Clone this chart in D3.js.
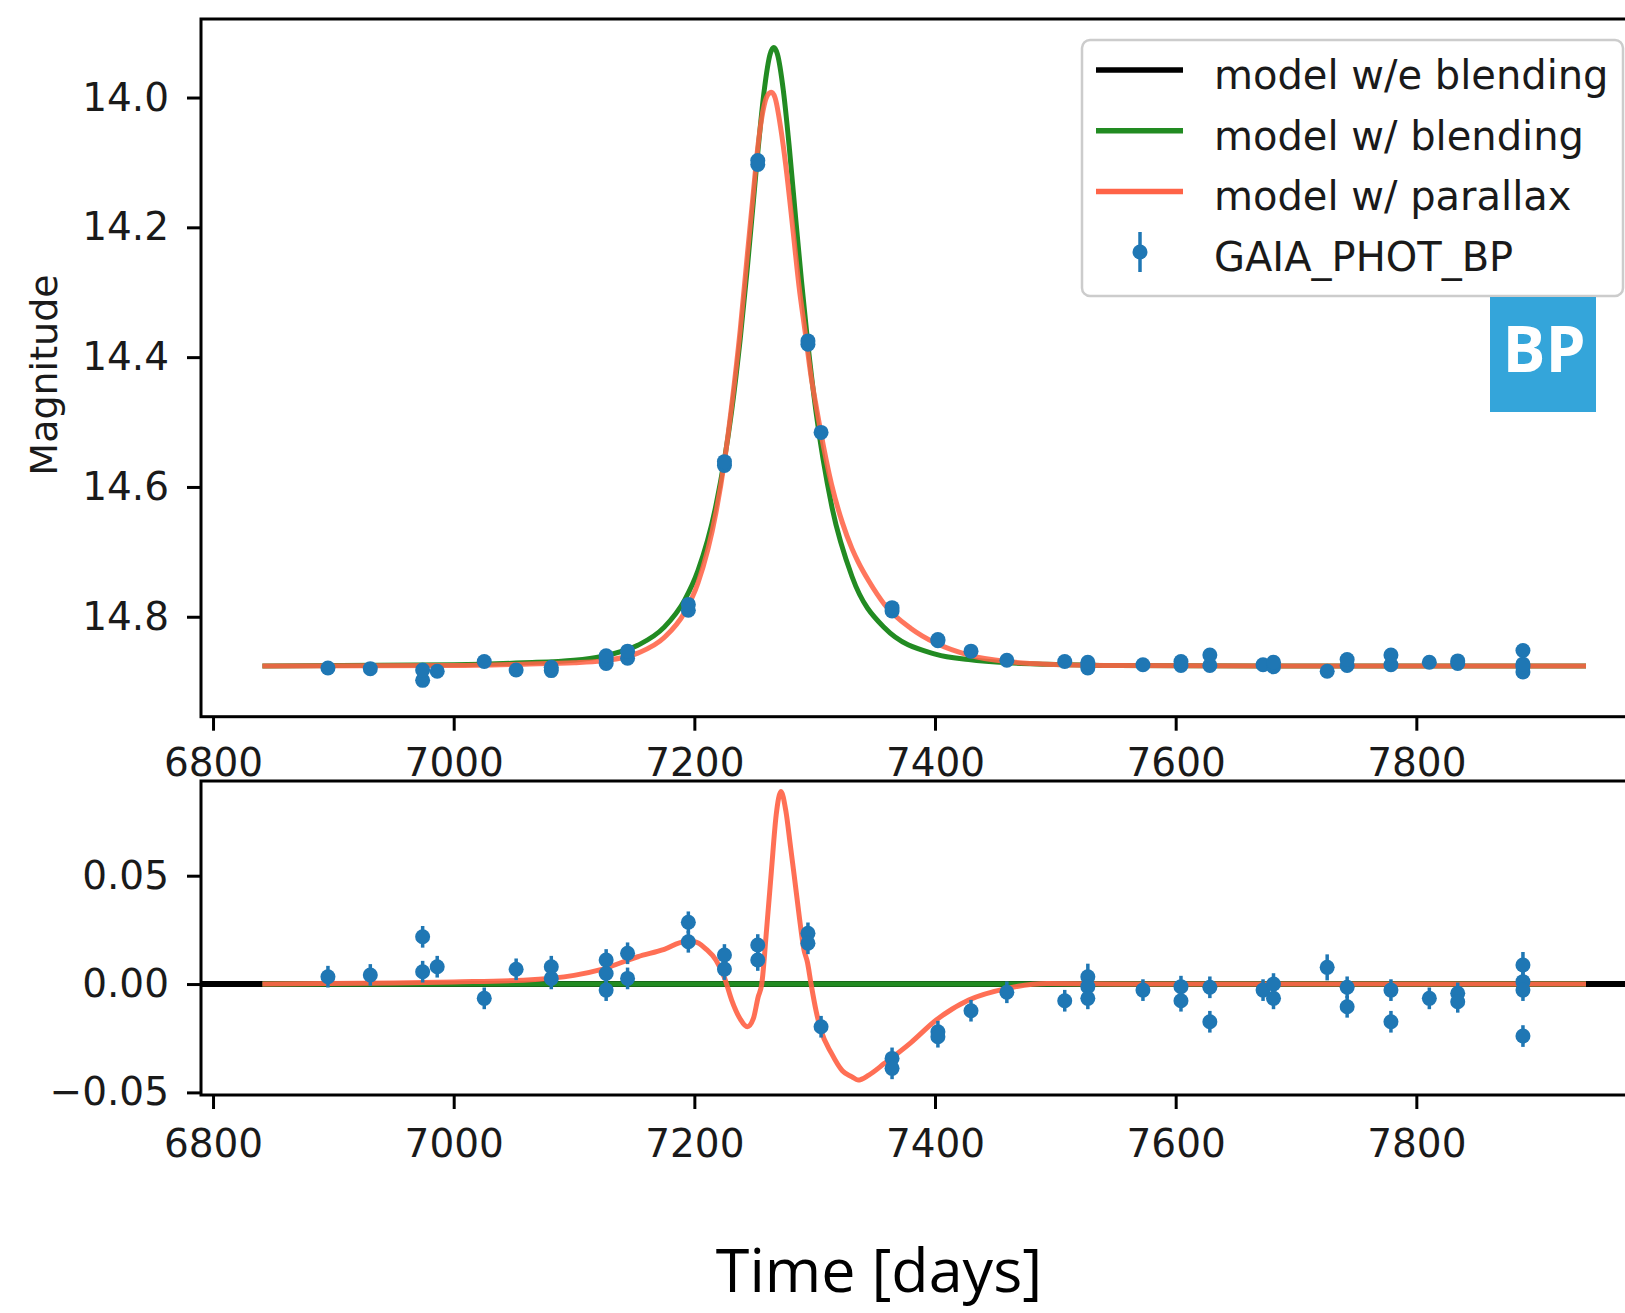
<!DOCTYPE html>
<html>
<head>
<meta charset="utf-8">
<script src="https://cdn.jsdelivr.net/npm/d3@7"></script>
<style>
  html, body { margin: 0; padding: 0; background: #fff; }
  svg { display: block; }
</style>
</head>
<body>
<svg id="chart" width="1625" height="1313"></svg>
<script>
// ---------------- data ----------------
const xTicks = [6800, 7000, 7200, 7400, 7600, 7800];
const magTicks = [14.0, 14.2, 14.4, 14.6, 14.8];
const resTicks = [-0.05, 0.0, 0.05];

const legendLabels = ["model w/e blending", "model w/ blending", "model w/ parallax", "GAIA_PHOT_BP"];

// observations (GAIA BP): time, magnitude, residual, error
const obsTime = [6895.5, 6930.7, 6974.2, 6974.2, 6986.3, 7025.4, 7051.9, 7081.1, 7081.1,
  7126.7, 7126.7, 7126.7, 7144.5, 7144.5, 7195.0, 7195.0, 7225.0, 7225.0, 7252.7, 7252.7,
  7294.4, 7294.4, 7305.3, 7364.3, 7364.3, 7402.4, 7402.4, 7429.9, 7459.7, 7507.8,
  7527.0, 7527.0, 7527.0, 7572.8, 7604.4, 7604.4, 7628.4, 7628.4, 7672.6, 7681.3, 7681.3,
  7725.9, 7742.5, 7742.5, 7778.9, 7778.9, 7810.8, 7834.4, 7834.4, 7888.6, 7888.6, 7888.6, 7888.6];
const obsMag = [14.879, 14.880, 14.898, 14.882, 14.884, 14.869, 14.882, 14.883, 14.878,
  14.872, 14.866, 14.860, 14.864, 14.853, 14.790, 14.781, 14.567, 14.561, 14.103, 14.097,
  14.380, 14.375, 14.516, 14.791, 14.786, 14.837, 14.835, 14.853, 14.867, 14.869,
  14.879, 14.874, 14.870, 14.874, 14.875, 14.869, 14.875, 14.859, 14.874, 14.877, 14.870,
  14.884, 14.875, 14.866, 14.874, 14.859, 14.870, 14.872, 14.868, 14.885, 14.877, 14.873, 14.852];
const obsResid = [0.0034, 0.0042, 0.0218, 0.0057, 0.0080, -0.0066, 0.0068, 0.0080, 0.0026,
  0.0111, 0.0049, -0.0028, 0.0142, 0.0026, 0.0285, 0.0195, 0.0134, 0.0069, 0.0180, 0.0111,
  0.0234, 0.0188, -0.0197, -0.0343, -0.0389, -0.0220, -0.0243, -0.0123, -0.0038, -0.0077,
  0.0034, -0.0012, -0.0066, -0.0028, -0.0012, -0.0077, -0.0015, -0.0174, -0.0028, 0.0000, -0.0066,
  0.0077, -0.0015, -0.0105, -0.0028, -0.0174, -0.0066, -0.0043, -0.0082, 0.0088, 0.0011, -0.0028, -0.0240];
const obsErr = [0.005, 0.005, 0.005, 0.005, 0.005, 0.005, 0.005, 0.005, 0.005,
  0.005, 0.005, 0.005, 0.005, 0.005, 0.005, 0.005, 0.005, 0.005, 0.005, 0.005,
  0.005, 0.005, 0.005, 0.005, 0.005, 0.005, 0.005, 0.005, 0.005, 0.005,
  0.006, 0.005, 0.005, 0.005, 0.005, 0.005, 0.005, 0.005, 0.005, 0.005, 0.005,
  0.006, 0.005, 0.005, 0.005, 0.005, 0.005, 0.005, 0.005, 0.006, 0.005, 0.005, 0.005];

// model with blending (green)
const blendTime = [6841, 7000, 7058, 7100, 7123, 7153, 7175, 7192, 7203, 7218, 7231, 7238, 7244,
  7249, 7253, 7258, 7263, 7266, 7269, 7274, 7279, 7284, 7289, 7294, 7301, 7314, 7331, 7358,
  7401, 7428, 7460, 7493, 7550, 7700, 7941];
const blendMag = [14.876, 14.874, 14.871, 14.867, 14.861, 14.844, 14.816, 14.774, 14.729, 14.628,
  14.483, 14.374, 14.263, 14.161, 14.079, 13.990, 13.933, 13.923, 13.933, 13.990, 14.079, 14.182,
  14.282, 14.374, 14.483, 14.628, 14.738, 14.817, 14.858, 14.866, 14.871, 14.873, 14.875, 14.876, 14.876];

// model with parallax (red)
const parTime = [6841, 7000, 7058, 7100, 7123, 7153, 7175, 7192, 7203, 7218, 7225, 7231, 7238, 7244,
  7249, 7253, 7258, 7261, 7264, 7267, 7272, 7276, 7282, 7287, 7292, 7297, 7301, 7305, 7314, 7323,
  7331, 7336, 7345, 7358, 7380, 7401, 7428, 7460, 7493, 7550, 7700, 7941];
const parMag = [14.876, 14.875, 14.873, 14.871, 14.868, 14.856, 14.832, 14.793, 14.748, 14.639, 14.561,
  14.475, 14.360, 14.243, 14.147, 14.072, 14.012, 13.996, 13.992, 14.000, 14.050, 14.105, 14.205,
  14.291, 14.360, 14.430, 14.473, 14.515, 14.596, 14.655, 14.695, 14.715, 14.745, 14.781, 14.818,
  14.841, 14.859, 14.869, 14.873, 14.875, 14.876, 14.876];

// residual curve of the parallax model (bottom panel)
const parResTime = [6841, 6950, 7000, 7058, 7100, 7123, 7153, 7175, 7192, 7200, 7210, 7218, 7225,
  7231, 7238, 7244, 7249, 7253, 7256, 7260, 7264, 7268, 7272, 7276, 7280, 7283, 7287, 7291, 7294,
  7297, 7301, 7305, 7314, 7323, 7331, 7336, 7345, 7358, 7380, 7401, 7428, 7460, 7493, 7550, 7941];
const parResVal = [0.0, 0.0005, 0.001, 0.0018, 0.004, 0.0068, 0.0126, 0.016, 0.0195, 0.0195, 0.016,
  0.011, 0.003, -0.0074, -0.016, -0.0197, -0.016, -0.006, 0.0, 0.025, 0.052, 0.078, 0.0888, 0.080,
  0.063, 0.050, 0.032, 0.016, 0.010, 0.0, -0.012, -0.021, -0.032, -0.040, -0.0428, -0.0443, -0.042,
  -0.0366, -0.027, -0.0166, -0.0074, -0.002, 0.0003, 0.0, 0.0];

// residual of the blending model (green, bottom panel)
const blendResTime = [6841, 7941];
const blendResVal = [0.0, 0.0];

// ---------------- drawing ----------------
const svg = d3.select("#chart");
const FONT = "DejaVu Sans, sans-serif";
const BLUE = "#1f77b4", GREEN = "#228b22", RED = "#ff6347";

const L = 201, R = 1657;
const top1 = 19, bot1 = 716.7;
const top2 = 781, bot2 = 1095;

const x = d3.scaleLinear().domain([6790, 8000]).range([L, R]);
const yM = d3.scaleLinear().domain([13.879, 14.954]).range([top1, bot1]);
const yR = d3.scaleLinear().domain([-0.0512, 0.0937]).range([bot2, top2]);

function styleAxis(g) {
  g.select(".domain").remove();
  g.selectAll(".tick line").attr("stroke", "#000").attr("stroke-width", 3);
  g.selectAll(".tick text").attr("font-family", FONT).attr("font-size", 39).attr("fill", "#1a1a1a");
}

// axes ticks
svg.append("g").attr("transform", `translate(${L},0)`)
  .call(d3.axisLeft(yM).tickValues(magTicks).tickFormat(d3.format(".1f")).tickSize(14).tickPadding(18))
  .call(styleAxis);
svg.append("g").attr("transform", `translate(0,${bot1})`)
  .call(d3.axisBottom(x).tickValues(xTicks).tickFormat(d3.format("d")).tickSize(14).tickPadding(18))
  .call(styleAxis);
svg.append("g").attr("transform", `translate(${L},0)`)
  .call(d3.axisLeft(yR).tickValues(resTicks).tickFormat(d3.format(".2f")).tickSize(14).tickPadding(18))
  .call(styleAxis);
svg.append("g").attr("transform", `translate(0,${bot2})`)
  .call(d3.axisBottom(x).tickValues(xTicks).tickFormat(d3.format("d")).tickSize(14).tickPadding(20))
  .call(styleAxis);

const line = (xs, ys, yScale) => d3.line().curve(d3.curveMonotoneX)
  .x((d, i) => x(xs[i])).y((d, i) => yScale(ys[i]))(xs);

// ---- top panel ----
const gTop = svg.append("g");
gTop.append("path").attr("d", line(blendTime, blendMag, yM))
  .attr("fill", "none").attr("stroke", GREEN).attr("stroke-width", 5);
gTop.append("path").attr("d", line(parTime, parMag, yM))
  .attr("fill", "none").attr("stroke", RED).attr("stroke-opacity", 0.88).attr("stroke-width", 5);

const idx = d3.range(obsTime.length);
gTop.selectAll("line.eb").data(idx).join("line").attr("class", "eb")
  .attr("x1", i => x(obsTime[i])).attr("x2", i => x(obsTime[i]))
  .attr("y1", i => yM(obsMag[i] - obsErr[i])).attr("y2", i => yM(obsMag[i] + obsErr[i]))
  .attr("stroke", BLUE).attr("stroke-width", 3.5);
gTop.selectAll("circle").data(idx).join("circle")
  .attr("cx", i => x(obsTime[i])).attr("cy", i => yM(obsMag[i])).attr("r", 7.5).attr("fill", BLUE);

// ---- bottom panel ----
const gBot = svg.append("g");
gBot.append("line").attr("x1", L).attr("x2", R).attr("y1", yR(0)).attr("y2", yR(0))
  .attr("stroke", "#000").attr("stroke-width", 6);
gBot.append("path").attr("d", line(blendResTime, blendResVal, yR))
  .attr("fill", "none").attr("stroke", GREEN).attr("stroke-width", 5.5);
gBot.append("path").attr("d", line(parResTime, parResVal, yR))
  .attr("fill", "none").attr("stroke", RED).attr("stroke-opacity", 0.92).attr("stroke-width", 5);
gBot.selectAll("line.eb").data(idx).join("line").attr("class", "eb")
  .attr("x1", i => x(obsTime[i])).attr("x2", i => x(obsTime[i]))
  .attr("y1", i => yR(obsResid[i] - obsErr[i])).attr("y2", i => yR(obsResid[i] + obsErr[i]))
  .attr("stroke", BLUE).attr("stroke-width", 3.5);
gBot.selectAll("circle").data(idx).join("circle")
  .attr("cx", i => x(obsTime[i])).attr("cy", i => yR(obsResid[i])).attr("r", 7.5).attr("fill", BLUE);

// frames
svg.append("rect").attr("x", L).attr("y", top1).attr("width", R - L).attr("height", bot1 - top1)
  .attr("fill", "none").attr("stroke", "#000").attr("stroke-width", 3);
svg.append("rect").attr("x", L).attr("y", top2).attr("width", R - L).attr("height", bot2 - top2)
  .attr("fill", "none").attr("stroke", "#000").attr("stroke-width", 3);

// legend
const lg = svg.append("g");
lg.append("rect").attr("x", 1082).attr("y", 40).attr("width", 541).attr("height", 256).attr("rx", 8)
  .attr("fill", "#fff").attr("fill-opacity", 0.85).attr("stroke", "#cccccc").attr("stroke-width", 2.5);
const legColors = ["#000", GREEN, RED];
const legY = [70, 130.7, 191.4, 252];
legColors.forEach((c, i) => {
  lg.append("line").attr("x1", 1096).attr("x2", 1183).attr("y1", legY[i]).attr("y2", legY[i])
    .attr("stroke", c).attr("stroke-width", 5.5);
});
lg.append("line").attr("x1", 1140).attr("x2", 1140).attr("y1", legY[3] - 20).attr("y2", legY[3] + 20)
  .attr("stroke", BLUE).attr("stroke-width", 3.5);
lg.append("circle").attr("cx", 1140).attr("cy", legY[3]).attr("r", 7.5).attr("fill", BLUE);
legendLabels.forEach((t, i) => {
  lg.append("text").attr("x", 1214).attr("y", legY[i] + 19).text(t)
    .attr("font-family", FONT).attr("font-size", 40).attr("fill", "#1a1a1a");
});

// BP badge
svg.append("rect").attr("x", 1490).attr("y", 297).attr("width", 106).attr("height", 115).attr("fill", "#34a5da");
svg.append("text").attr("x", 1544).attr("y", 372).attr("text-anchor", "middle").text("BP")
  .attr("font-family", "Open Sans, sans-serif").attr("font-weight", "bold").attr("font-size", 64).attr("fill", "#fff");

// axis labels
svg.append("text").attr("transform", "translate(57,375) rotate(-90)").attr("text-anchor", "middle")
  .text("Magnitude").attr("font-family", FONT).attr("font-size", 38).attr("fill", "#1a1a1a");
svg.append("text").attr("x", 879).attr("y", 1292).attr("text-anchor", "middle").text("Time [days]")
  .attr("font-family", "Open Sans, sans-serif").attr("font-size", 61).attr("fill", "#000");
</script>
</body>
</html>
